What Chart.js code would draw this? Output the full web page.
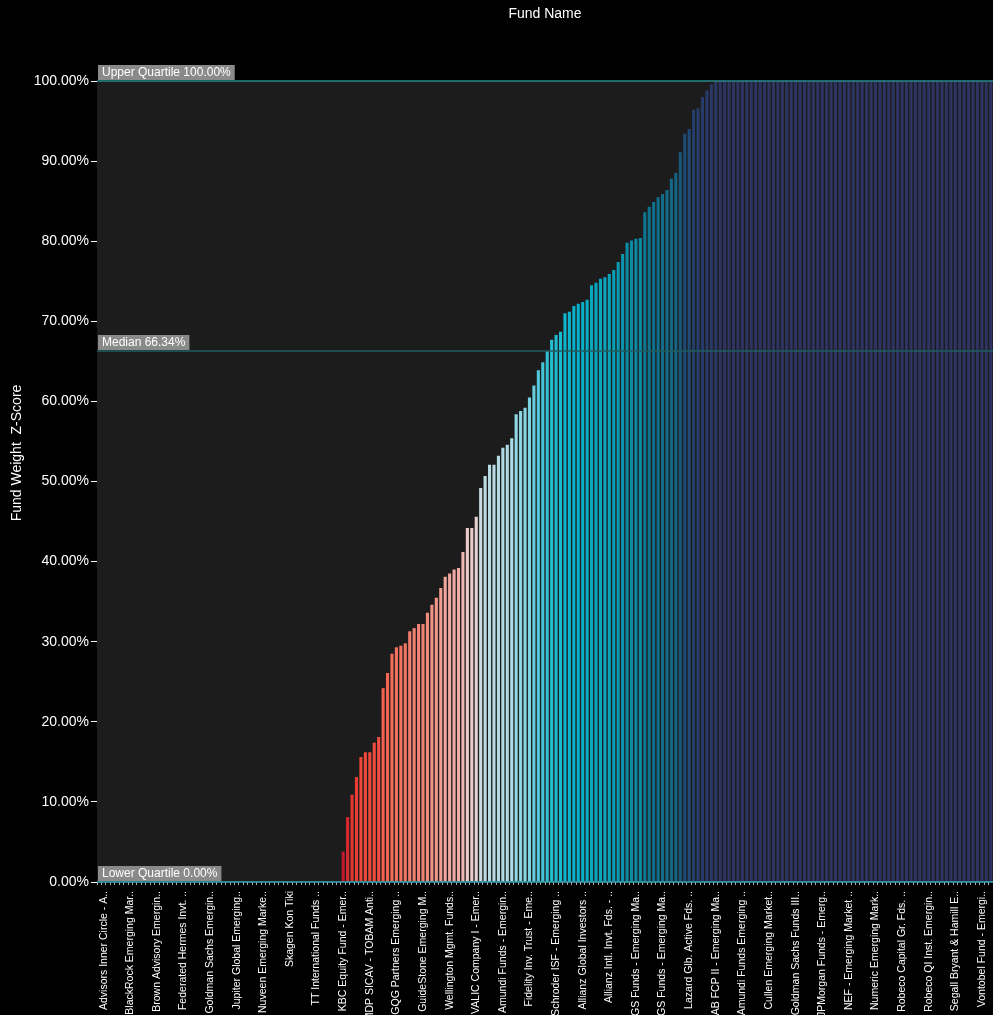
<!DOCTYPE html>
<html>
<head>
<meta charset="utf-8">
<script src="https://cdn.jsdelivr.net/npm/chart.js@4.4.1/dist/chart.umd.min.js"></script>
<style>
  html, body { margin: 0; padding: 0; background: #000; }
</style>
</head>
<body>
<canvas id="fundChart" width="993" height="1015"></canvas>
<script>
// Fund weight z-score, sorted ascending (one value per fund, in %)
const weights = [
    0, 0, 0, 0, 0, 0, 0, 0, 0, 0, 0, 0, 0, 0, 0, 0, 0, 0, 0, 0,
    0, 0, 0, 0, 0, 0, 0, 0, 0, 0, 0, 0, 0, 0, 0, 0, 0, 0, 0, 0,
    0, 0, 0, 0, 0, 0, 0, 0, 0, 0, 0, 0, 0, 0, 0,
    3.8, 8.1, 10.9, 13.1, 15.6, 16.2, 16.2, 17.4, 18.1, 24.2, 26.1, 28.5, 29.3, 29.5, 29.8,
    31.3, 31.7, 32.2, 32.2, 33.6, 34.6,
    35.5, 36.7, 38.1, 38.5, 39.0, 39.2, 41.2, 44.2, 44.2, 45.6, 49.2, 50.7, 52.1, 52.1,
    53.2, 54.2, 54.6, 55.4, 58.4, 58.8, 59.2, 60.5, 62.0, 63.9, 64.9, 66.3, 67.7, 68.3,
    68.7, 71.0, 71.2, 71.9, 72.2, 72.4, 72.7,
    74.5, 74.8, 75.3, 75.5, 75.9, 76.4, 77.4, 78.4, 79.8, 80.1, 80.3, 80.4, 83.6, 84.3,
    84.9, 85.5,
    85.9, 86.4, 87.8, 88.5, 91.1, 93.4, 94.0, 96.4, 96.6, 98.0, 98.8, 99.6, 99.9,
    100, 100, 100, 100, 100, 100, 100, 100, 100, 100, 100, 100, 100, 100, 100, 100, 100, 100, 100, 100,
    100, 100, 100, 100, 100, 100, 100, 100, 100, 100, 100, 100, 100, 100, 100, 100, 100, 100, 100, 100,
    100, 100, 100, 100, 100, 100, 100, 100, 100, 100, 100, 100, 100, 100, 100, 100, 100, 100, 100, 100,
    100, 100
];

// Fund names shown on the axis (every 6th fund gets a label)
const tickLabels = [
    'Advisors Inner Circle - A..', 'BlackRock Emerging Mar..', 'Brown Advisory Emergin..',
    'Federated Hermes Invt. ..', 'Goldman Sachs Emergin..', 'Jupiter Global Emerging..',
    'Nuveen Emerging Marke..', 'Skagen Kon Tiki', 'TT International Funds ..',
    'KBC Equity Fund - Emer..', 'MDP SICAV - TOBAM Anti..', 'GQG Partners Emerging ..',
    'GuideStone Emerging M..', 'Wellington Mgmt. Funds..', 'VALIC Company I - Emer..',
    'Amundi Funds - Emergin..', 'Fidelity Inv. Trust - Eme..', 'Schroder ISF - Emerging ..',
    'Allianz Global Investors ..', 'Allianz Intl. Invt. Fds. - ..', 'GS Funds - Emerging Ma..',
    'GS Funds - Emerging Ma..', 'Lazard Glb. Active Fds. ..', 'AB FCP II - Emerging Ma..',
    'Amundi Funds Emerging ..', 'Cullen Emerging Market..', 'Goldman Sachs Funds III..',
    'JPMorgan Funds - Emerg..', 'NEF - Emerging Market ..', 'Numeric Emerging Mark..',
    'Robeco Capital Gr. Fds. ..', 'Robeco QI Inst. Emergin..', 'Segall Bryant & Hamill E..',
    'Vontobel Fund - Emergi..'
];
const labelStep = 6;

const yTicks = [0, 10, 20, 30, 40, 50, 60, 70, 80, 90, 100];

// reference lines
const upperQuartile = 100.00;
const median = 66.34;
const lowerQuartile = 0.00;

// colour ramp by value (red -> light -> cyan -> navy)
const colorStops = [
    [0, '#b0102a'], [5, '#c8192e'], [9, '#dc2e2e'], [14, '#ec4236'], [20, '#f25444'],
    [28, '#f46a58'], [33, '#f0887a'], [38, '#f0a49c'], [43, '#f0c4c0'], [47, '#e0dada'],
    [50, '#c0dce4'], [56, '#a8dce6'], [60, '#80d4e2'], [64, '#50c8da'], [68, '#20bcd2'],
    [72, '#08b2ca'], [76, '#0aa2ba'], [80, '#0c8aa4'], [84, '#0e7490'], [88, '#146684'],
    [92, '#1c5278'], [96, '#223f6c'], [99.9, '#2a3866'], [100, '#2e3462']
];

function hexToRgb(h) {
    return [parseInt(h.slice(1, 3), 16), parseInt(h.slice(3, 5), 16), parseInt(h.slice(5, 7), 16)];
}

function colorFor(v) {
    for (let i = 1; i < colorStops.length; i++) {
        const [v1, c1] = colorStops[i];
        if (v <= v1) {
            const [v0, c0] = colorStops[i - 1];
            const t = (v - v0) / (v1 - v0 || 1);
            const a = hexToRgb(c0), b = hexToRgb(c1);
            const rgb = a.map((x, k) => Math.round(x + (b[k] - x) * t));
            return `rgb(${rgb[0]},${rgb[1]},${rgb[2]})`;
        }
    }
    return colorStops[colorStops.length - 1][1];
}

const refLines = [
    { value: upperQuartile, text: `Upper Quartile ${upperQuartile.toFixed(2)}%`, color: '#2a8a8c' },
    { value: median, text: `Median ${median.toFixed(2)}%`, color: '#1f5d60' },
    { value: lowerQuartile, text: `Lower Quartile ${lowerQuartile.toFixed(2)}%`, color: '#3aaabb' }
];

const decorPlugin = {
    id: 'decor',
    beforeDraw(chart) {
        const { ctx, chartArea: a } = chart;
        ctx.save();
        ctx.fillStyle = '#000';
        ctx.fillRect(0, 0, chart.width, chart.height);
        ctx.fillStyle = '#1c1c1c';
        ctx.fillRect(a.left, a.top, a.right - a.left, a.bottom - a.top);
        ctx.restore();
    },
    afterDatasetsDraw(chart) {
        const { ctx, chartArea: a } = chart;
        const y = chart.scales.y;
        ctx.save();
        ctx.font = '12px "Liberation Sans"';
        ctx.textBaseline = 'middle';
        refLines.forEach(r => {
            const py = Math.round(y.getPixelForValue(r.value));
            ctx.strokeStyle = r.color;
            ctx.lineWidth = 1.5;
            ctx.beginPath();
            ctx.moveTo(a.left, py);
            ctx.lineTo(a.right, py);
            ctx.stroke();
            const w = ctx.measureText(r.text).width + 8;
            ctx.fillStyle = '#8a8a8a';
            ctx.fillRect(a.left + 1, py - 16, w, 15);
            ctx.fillStyle = '#fff';
            ctx.fillText(r.text, a.left + 5, py - 8);
        });
        ctx.restore();
    },
    afterDraw(chart) {
        const { ctx, chartArea: a } = chart;
        ctx.save();
        ctx.fillStyle = '#fff';
        ctx.font = '14px "Liberation Sans"';
        ctx.textAlign = 'center';
        ctx.textBaseline = 'middle';
        ctx.fillText('Fund Name', (a.left + a.right) / 2, 14);
        ctx.translate(17, 453);
        ctx.rotate(-Math.PI / 2);
        ctx.fillText('Fund Weight  Z-Score', 0, 0);
        ctx.restore();
    }
};

Chart.defaults.font.family = '"Liberation Sans", sans-serif';
Chart.defaults.color = '#ffffff';

const fundChart = new Chart(document.getElementById('fundChart'), {
    type: 'bar',
    data: {
        labels: weights.map((_, i) => String(i + 1)),
        datasets: [{
            label: 'Fund Weight Z-Score',
            data: weights,
            backgroundColor: weights.map(colorFor),
            borderWidth: 0,
            barPercentage: 0.7,
            categoryPercentage: 1.0
        }]
    },
    options: {
        responsive: false,
        animation: false,
        layout: { padding: { top: 81, left: 0, right: 0, bottom: 0 } },
        plugins: {
            legend: { display: false },
            tooltip: { enabled: false }
        },
        scales: {
            x: {
                grid: { display: true, drawOnChartArea: false, tickLength: 3, tickColor: '#aaaaaa' },
                border: { display: false },
                ticks: {
                    autoSkip: false,
                    maxRotation: 90,
                    minRotation: 90,
                    padding: 6,
                    color: '#ffffff',
                    font: { size: 10.5 },
                    callback: (v, i) => (i % labelStep === 1 ? tickLabels[(i - 1) / labelStep] : '')
                },
                afterFit: s => { s.height = 133; s.paddingLeft = 0; s.paddingRight = 0; }
            },
            y: {
                min: 0,
                max: 100,
                afterBuildTicks: s => { s.ticks = yTicks.map(v => ({ value: v })); },
                grid: { drawOnChartArea: false, tickLength: 6, tickColor: '#ffffff' },
                border: { display: false },
                ticks: {
                    color: '#ffffff',
                    font: { size: 14 },
                    padding: 2,
                    callback: v => v.toFixed(2) + '%'
                },
                afterFit: s => { s.width = 97; }
            }
        }
    },
    plugins: [decorPlugin]
});
</script>
</body>
</html>
